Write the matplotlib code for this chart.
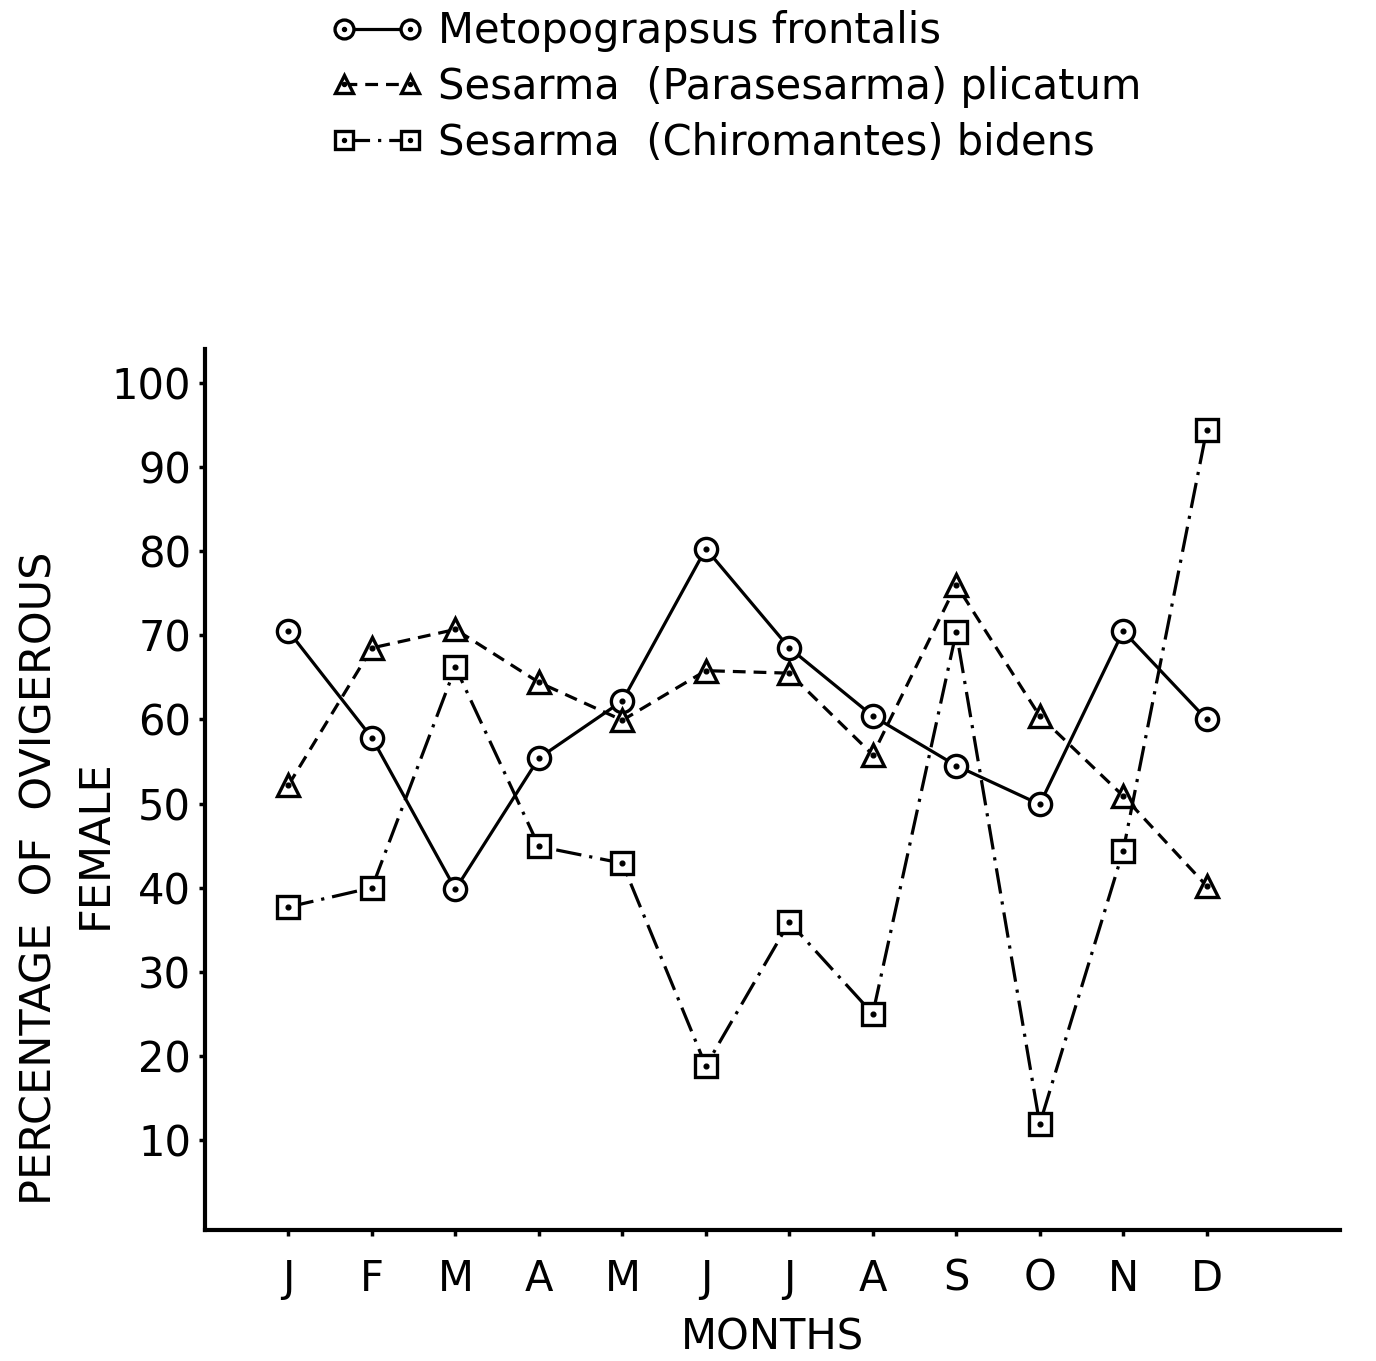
import matplotlib
matplotlib.use("Agg")
from matplotlib import pyplot as plt

# data
months = ["J", "F", "M", "A", "M", "J", "J", "A", "S", "O", "N", "D"]
month_pos = list(range(1, 13))
metopograpsus = [70.5, 57.8, 39.8, 55.4, 62.2, 80.3, 68.5, 60.4, 54.5, 49.9, 70.5, 60.0]
parasesarma = [52.2, 68.5, 70.7, 64.4, 59.9, 65.8, 65.5, 55.8, 76.0, 60.4, 50.9, 40.2]
chiromantes = [37.7, 40.0, 66.2, 44.9, 42.9, 18.8, 35.9, 25.0, 70.4, 11.9, 44.4, 94.4]
yticks = [10, 20, 30, 40, 50, 60, 70, 80, 90, 100]

plt.rcParams['font.family'] = ['DejaVu Sans']

fig = plt.figure(figsize=(13.76, 13.61), dpi=100)
ax = fig.add_axes([0.149, 0.0963, 0.825, 0.647])

lw = 2.3
ms = 16

def series(y, marker, dashes, label):
    ln, = ax.plot(month_pos, y, color='black', lw=lw, marker=marker, ms=ms,
                  mfc='white', mec='black', mew=2.4, dashes=dashes, label=label, zorder=3)
    dot, = ax.plot(month_pos, y, ls='none', marker='o', ms=3.4, color='black', zorder=4)
    return (ln, dot)

h1 = series(metopograpsus, 'o', (None, None), "Metopograpsus frontalis")
h2 = series(parasesarma, '^', (4, 2.5), "Sesarma  (Parasesarma) plicatum")
h3 = series(chiromantes, 's', (8, 2.5, 1, 2.5), "Sesarma  (Chiromantes) bidens")

ax.set_xlim(0, 13.6)
ax.set_ylim(-0.7, 104)
ax.set_xticks(month_pos)
ax.set_xticklabels(months, fontsize=30)
ax.set_yticks(yticks)
ax.set_yticklabels([str(v) for v in yticks], fontsize=30)

for s in ['top', 'right']:
    ax.spines[s].set_visible(False)
for s in ['left', 'bottom']:
    ax.spines[s].set_linewidth(3)
ax.tick_params(axis='both', width=2.5, length=4, pad=6)
ax.tick_params(axis='x', pad=16)

ax.set_xlabel("MONTHS", fontsize=30, labelpad=12)

fig.text(0.029, 0.355, "PERCENTAGE  OF  OVIGEROUS", rotation=90, ha='center', va='center', fontsize=31)
fig.text(0.069, 0.38, "FEMALE", rotation=90, ha='center', va='center', fontsize=31)

leg = fig.legend([h1, h2, h3], [h1[0].get_label(), h2[0].get_label(), h3[0].get_label()],
                 loc='upper left', bbox_to_anchor=(0.2135, 1.02), frameon=False,
                 numpoints=2, markerscale=0.85, handlelength=2.2, handletextpad=0.35,
                 labelspacing=0.33, fontsize=30)

fig.savefig("out.png", dpi=100)
